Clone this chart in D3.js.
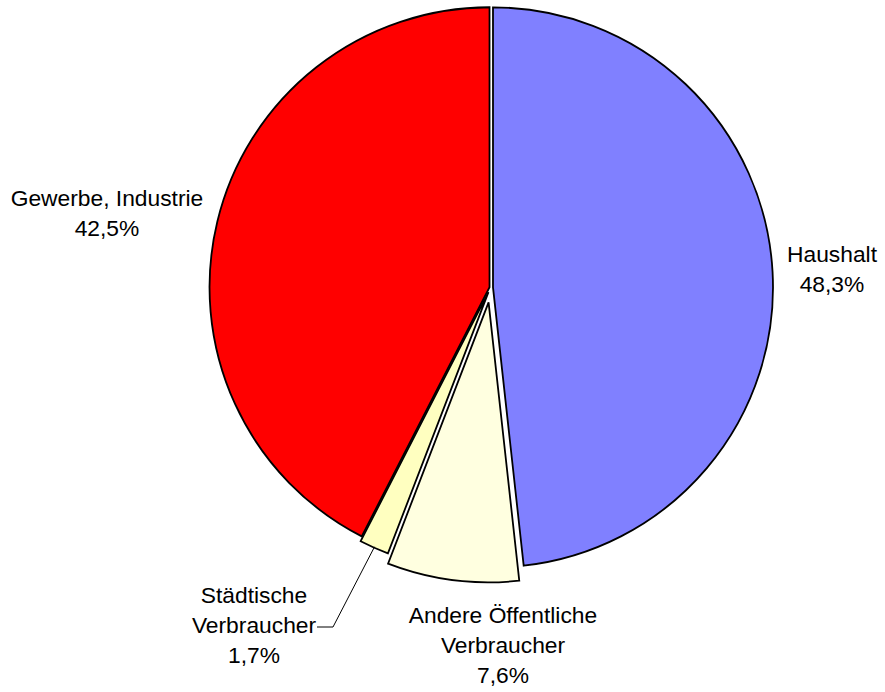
<!DOCTYPE html>
<html>
<head>
<meta charset="utf-8">
<script src="https://cdn.jsdelivr.net/npm/d3@7"></script>
<style>
  html, body { margin: 0; padding: 0; background: #ffffff; }
  svg { display: block; }
  text { font-family: "Liberation Sans", Arial, sans-serif; fill: #000; }
</style>
</head>
<body>
<svg id="chart" width="885" height="692"></svg>
<script>
// ---- data ----
const categories = ["Haushalt", "Andere Öffentliche Verbraucher", "Städtische Verbraucher", "Gewerbe, Industrie"];
const labelLines = [["Haushalt"], ["Andere Öffentliche", "Verbraucher"], ["Städtische", "Verbraucher"], ["Gewerbe, Industrie"]];
const values = [48.3, 7.6, 1.7, 42.5];

// ---- style / layout ----
const colors = ["#8080FF", "#FFFFE0", "#FFFFC0", "#FF0000"];
const explode = [2.5, 15, 5, 1];           // px offset of each slice along its mid-angle
const labelAnchor = [[832, 262], [503, 623], [254, 603], [107, 206]]; // first-line baseline centre
const lineH = 30;
const W = 885, H = 692;
const cx = 490.5, cy = 287.5, R = 280;

const fmt = d3.formatLocale({decimal: ",", thousands: ".", grouping: [3], currency: ["", "€"]}).format(".1f");

const svg = d3.select("#chart");
const pie = d3.pie().sort(null).value(d => d.value).startAngle(0).endAngle(2 * Math.PI);
const arc = d3.arc().innerRadius(0).outerRadius(R);
const data = values.map((v, i) => ({ value: v, i }));
const arcs = pie(data);

const g = svg.append("g").attr("transform", `translate(${cx},${cy})`);

function offset(a, d) {
  const m = (a.startAngle + a.endAngle) / 2;
  return [Math.sin(m) * d, -Math.cos(m) * d];
}

g.selectAll("path.slice")
  .data(arcs)
  .join("path")
  .attr("class", "slice")
  .attr("transform", a => { const o = offset(a, explode[a.data.i]); return `translate(${o[0]},${o[1]})`; })
  .attr("d", arc)
  .attr("fill", a => colors[a.data.i])
  .attr("stroke", "#000")
  .attr("stroke-width", 1.8)
  .attr("stroke-linejoin", "miter");

// labels
arcs.forEach(a => {
  const i = a.data.i;
  const [lx, ly] = labelAnchor[i];
  const lines = labelLines[i].concat([fmt(values[i]) + "%"]);
  const t = svg.append("text")
    .attr("text-anchor", "middle")
    .attr("font-size", "22.8px");
  lines.forEach((s, k) => {
    t.append("tspan").attr("x", lx).attr("y", ly + k * lineH).text(s);
  });
});

// leader line for the small "Städtische Verbraucher" slice
(function () {
  const a = arcs[2];
  const o = offset(a, explode[2]);
  const m = (a.startAngle + a.endAngle) / 2;
  const ex = cx + o[0] + Math.sin(m) * (R - 1);
  const ey = cy + o[1] - Math.cos(m) * (R - 1);
  const [lx, ly] = labelAnchor[2];
  const textEnd = lx + 63;          // right end of "Verbraucher"
  const elbowY = ly + lineH - 6;
  svg.append("polyline")
    .attr("points", `${textEnd},${elbowY} ${textEnd + 16},${elbowY} ${ex},${ey}`)
    .attr("fill", "none")
    .attr("stroke", "#000")
    .attr("stroke-width", 1);
})();
</script>
</body>
</html>
